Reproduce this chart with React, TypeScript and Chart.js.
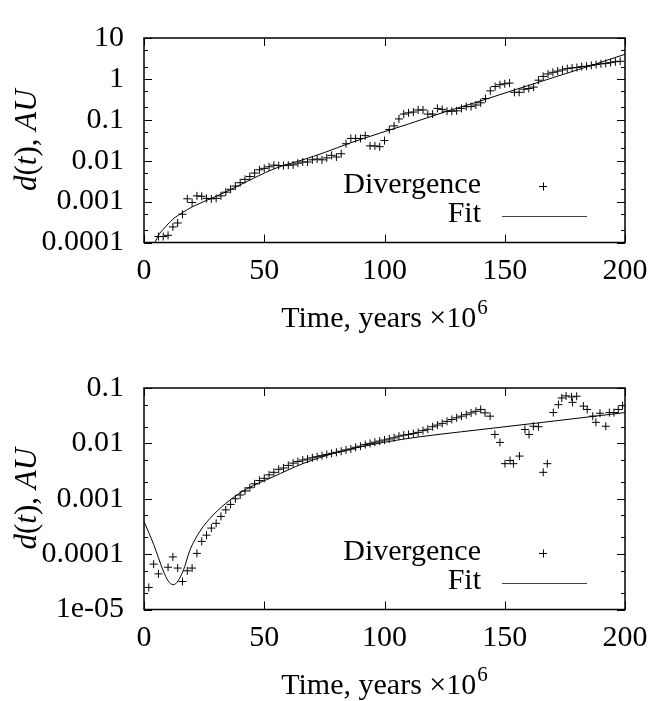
import React, { useEffect, useRef } from "react";
import { Chart, registerables } from "chart.js";
Chart.register(...registerables);

const SERIF = '"Liberation Serif", "Times New Roman", serif';
const FONT_SIZE = 30;
const YTITLE_SIZE = 31;

const xTickValues = [0, 50, 100, 150, 200];
const legendLabels = ["Divergence", "Fit"];
const xTitleMain = "Time, years \u00d710";
const xTitleSup = "6";

// ---------- top panel ----------
const topYTicks = [0.0001, 0.001, 0.01, 0.1, 1, 10];
const topYTickLabels = ["0.0001", "0.001", "0.01", "0.1", "1", "10"];
const topDivTime = [
  6, 8, 10, 12, 14, 16, 18, 20, 22, 24, 26, 28, 30, 32, 34, 36, 38, 40, 42, 44,
  46, 48, 50, 52, 54, 56, 58, 60, 62, 64, 66, 68, 70, 72, 74, 76, 78, 80, 82, 84,
  86, 88, 90, 92, 94, 96, 98, 100, 102, 104, 106, 108, 110, 112, 114, 116, 118, 120, 122, 124,
  126, 128, 130, 132, 134, 136, 138, 140, 142, 144, 146, 148, 150, 152, 154, 156, 158, 160, 162, 164,
  166, 168, 170, 172, 174, 176, 178, 180, 182, 184, 186, 188, 190, 192, 194, 196, 198,
];
const topDivValue = [
  1.4e-4, 1.4e-4, 1.5e-4, 2.4e-4, 3.0e-4, 4.9e-4, 1.17e-3, 9.5e-4, 1.38e-3, 1.35e-3,
  1.2e-3, 1.17e-3, 1.2e-3, 1.38e-3, 1.7e-3, 2.0e-3, 2.4e-3, 2.9e-3, 3.5e-3, 4.1e-3,
  5.0e-3, 6.0e-3, 6.5e-3, 7.1e-3, 7.8e-3, 7.6e-3, 7.6e-3, 7.8e-3, 7.9e-3, 8.7e-3,
  9.3e-3, 9.3e-3, 0.0105, 0.011, 0.0105, 0.0117, 0.0135, 0.0123, 0.0148, 0.026,
  0.035, 0.035, 0.035, 0.041, 0.023, 0.023, 0.022, 0.031, 0.058, 0.071,
  0.105, 0.138, 0.148, 0.155, 0.174, 0.174, 0.138, 0.138, 0.19, 0.18,
  0.162, 0.162, 0.166, 0.19, 0.21, 0.21, 0.23, 0.26, 0.33, 0.51,
  0.65, 0.72, 0.76, 0.79, 0.47, 0.47, 0.56, 0.58, 0.63, 0.93,
  1.15, 1.32, 1.45, 1.55, 1.66, 1.78, 1.86, 1.9, 2.0, 2.04,
  2.14, 2.24, 2.34, 2.4, 2.5, 2.63, 2.7,
];
const topFitTime = [4.6, 6, 8, 12, 16, 20, 26, 33, 40, 47, 54, 60, 66, 75, 86, 98, 110, 125, 140, 155, 170, 185, 200];
const topFitValue = [
  1.0e-4, 1.5e-4, 2.1e-4, 3.7e-4, 5.4e-4, 7.4e-4, 1.07e-3, 1.62e-3, 2.57e-3, 4.1e-3,
  6.3e-3, 8.3e-3, 0.0105, 0.0158, 0.0275, 0.047, 0.079, 0.155, 0.29, 0.56, 1.07, 2.04, 4.0,
];

// ---------- bottom panel ----------
const botYTicks = [1e-5, 1e-4, 1e-3, 1e-2, 0.1];
const botYTickLabels = ["1e-05", "0.0001", "0.001", "0.01", "0.1"];
const botDivTime = [
  2, 4, 6, 10, 12, 14, 16, 18, 20, 22, 24, 26, 28, 30, 32, 34, 36, 38, 40, 42,
  44, 46, 48, 50, 52, 54, 56, 58, 60, 62, 64, 66, 68, 70, 72, 74, 76, 78, 80, 82,
  84, 86, 88, 90, 92, 94, 96, 98, 100, 102, 104, 106, 108, 110, 112, 114, 116, 118, 120, 122,
  124, 126, 128, 130, 132, 134, 136, 138, 140, 141.8, 143.9, 145.9, 148, 150.1, 152.2, 153.6, 156.1, 158.4, 160.1, 161.9,
  164, 166, 167.7, 170.2, 172.3, 173.7, 175.5, 177.8, 178.2, 179.9, 182.7, 184.3, 186.6, 187.9, 189.6, 192, 193.5, 195.4, 197.2, 199,
];
const botDivValue = [
  2.5e-5, 6.6e-5, 4.4e-5, 5.8e-5, 8.9e-5, 5.6e-5, 3.2e-5, 5.0e-5, 5.6e-5, 1.03e-4,
  1.7e-4, 2.2e-4, 2.95e-4, 3.6e-4, 4.8e-4, 6.3e-4, 7.9e-4, 1.0e-3, 1.17e-3, 1.38e-3,
  1.58e-3, 1.86e-3, 2.14e-3, 2.34e-3, 2.7e-3, 3.0e-3, 3.4e-3, 3.6e-3, 4.0e-3, 4.4e-3,
  4.7e-3, 5.0e-3, 5.2e-3, 5.5e-3, 5.75e-3, 6.0e-3, 6.3e-3, 6.6e-3, 6.9e-3, 7.2e-3,
  7.6e-3, 7.9e-3, 8.5e-3, 8.9e-3, 9.5e-3, 0.010, 0.0105, 0.011, 0.0115, 0.012,
  0.0126, 0.0135, 0.0141, 0.0145, 0.015, 0.0158, 0.017, 0.018, 0.020, 0.0214,
  0.023, 0.025, 0.027, 0.029, 0.031, 0.033, 0.0355, 0.038, 0.041, 0.0355,
  0.031, 0.0145, 0.0104, 4.3e-3, 4.9e-3, 4.3e-3, 5.9e-3, 0.0178, 0.0145, 0.0204,
  0.020, 3.0e-3, 4.3e-3, 0.036, 0.050, 0.066, 0.072, 0.069, 0.055, 0.071,
  0.047, 0.041, 0.031, 0.024, 0.035, 0.0204, 0.036, 0.036, 0.041, 0.048,
];
const botFitTime = [0, 4, 8, 10, 12.2, 16.3, 19, 23.3, 28.8, 35.8, 42.7, 53.8, 66, 80, 99.5, 115, 132, 166, 200];
const botFitValue = [
  3.9e-4, 1.5e-4, 5.0e-5, 3.3e-5, 2.8e-5, 5.0e-5, 1.15e-4, 2.6e-4, 5.1e-4, 9.5e-4,
  1.5e-3, 2.5e-3, 4.3e-3, 6.8e-3, 0.0104, 0.0132, 0.0162, 0.024, 0.036,
];

type PanelProps = {
  top: number;
  height: number;
  plotTop: number;
  plotBottom: number;
  yTicks: number[];
  yTickLabels: string[];
  divTime: number[];
  divValue: number[];
  fitTime: number[];
  fitValue: number[];
  legendY: number;
};

const font = (size: number, italic = false) =>
  `${italic ? "italic " : ""}${size}px ${SERIF}`;

function Panel(p: PanelProps) {
  const ref = useRef<HTMLCanvasElement | null>(null);
  useEffect(() => {
    const canvas = ref.current!;
    const framePlugin = {
      id: "frameTicks",
      afterDatasetsDraw(chart: any) {
        const ctx = chart.ctx;
        const { left, right, top, bottom } = chart.chartArea;
        const xs = chart.scales.x;
        const ys = chart.scales.y;
        ctx.save();
        ctx.strokeStyle = "#000";
        ctx.lineWidth = 1;
        const major = 8;
        const minor = 4;
        ctx.beginPath();
        for (const v of xTickValues) {
          const px = Math.round(xs.getPixelForValue(v)) + 0.5;
          ctx.moveTo(px, bottom);
          ctx.lineTo(px, bottom - major);
          ctx.moveTo(px, top);
          ctx.lineTo(px, top + major);
        }
        const yMin = p.yTicks[0];
        const yMax = p.yTicks[p.yTicks.length - 1];
        for (let d = yMin; d <= yMax * 1.0001; d *= 10) {
          const py = Math.round(ys.getPixelForValue(d)) + 0.5;
          ctx.moveTo(left, py);
          ctx.lineTo(left + major, py);
          ctx.moveTo(right, py);
          ctx.lineTo(right - major, py);
          if (d < yMax * 0.999) {
            for (const m of [2, 5]) {
              const pm = Math.round(ys.getPixelForValue(d * m)) + 0.5;
              ctx.moveTo(left, pm);
              ctx.lineTo(left + minor, pm);
              ctx.moveTo(right, pm);
              ctx.lineTo(right - minor, pm);
            }
          }
        }
        ctx.stroke();
        ctx.lineWidth = 1.5;
        ctx.strokeRect(left, top, right - left, bottom - top);
        ctx.restore();
      },
    };
    const legendPlugin = {
      id: "gnuLegend",
      afterDatasetsDraw(chart: any) {
        const ctx = chart.ctx;
        ctx.save();
        ctx.fillStyle = "#000";
        ctx.strokeStyle = "#000";
        ctx.font = font(FONT_SIZE);
        ctx.textAlign = "right";
        ctx.textBaseline = "middle";
        const textRight = 481;
        const rowGap = 29;
        const y1 = p.legendY;
        ctx.fillText(chart.data.datasets[0].label, textRight, y1);
        ctx.lineWidth = 1;
        ctx.beginPath();
        ctx.moveTo(543 - 4, y1 + 1.5);
        ctx.lineTo(543 + 4, y1 + 1.5);
        ctx.moveTo(543.5, y1 + 1.5 - 4);
        ctx.lineTo(543.5, y1 + 1.5 + 4);
        ctx.stroke();
        const y2 = p.legendY + rowGap;
        ctx.fillText(chart.data.datasets[1].label, textRight, y2);
        ctx.strokeStyle = "#444";
        ctx.beginPath();
        ctx.moveTo(502, y2 + 2.5);
        ctx.lineTo(587, y2 + 2.5);
        ctx.stroke();
        ctx.restore();
      },
    };
    const titlePlugin = {
      id: "axisTitles",
      afterDraw(chart: any) {
        const ctx = chart.ctx;
        const { left, right, top, bottom } = chart.chartArea;
        ctx.save();
        ctx.fillStyle = "#000";
        ctx.textBaseline = "middle";
        ctx.textAlign = "left";
        ctx.font = font(FONT_SIZE);
        const wMain = ctx.measureText(xTitleMain).width;
        ctx.font = font(21);
        const wSup = ctx.measureText(xTitleSup).width;
        const cx = (left + right) / 2;
        const tx = cx - (wMain + wSup + 1) / 2;
        const ty = bottom + 77;
        ctx.font = font(FONT_SIZE);
        ctx.fillText(xTitleMain, tx, ty);
        ctx.font = font(21);
        ctx.fillText(xTitleSup, tx + wMain + 1, ty - 11);
        const parts: [string, boolean][] = [
          ["d", true],
          ["(", false],
          ["t", true],
          ["), ", false],
          ["AU", true],
        ];
        let total = 0;
        const widths = parts.map(([s, it]) => {
          ctx.font = font(YTITLE_SIZE, it);
          const w = ctx.measureText(s).width;
          total += w;
          return w;
        });
        ctx.translate(28, (top + bottom) / 2);
        ctx.rotate(-Math.PI / 2);
        let xx = -total / 2;
        parts.forEach(([s, it], i) => {
          ctx.font = font(YTITLE_SIZE, it);
          ctx.fillText(s, xx, 0);
          xx += widths[i];
        });
        ctx.restore();
      },
    };

    const chart = new Chart(canvas, {
      type: "scatter",
      data: {
        datasets: [
          {
            label: legendLabels[0],
            data: p.divTime.map((t, i) => ({ x: t, y: p.divValue[i] })),
            showLine: false,
            pointStyle: "cross",
            pointRadius: 4,
            pointHoverRadius: 4,
            pointBorderWidth: 1,
            borderColor: "#000",
            backgroundColor: "#000",
          },
          {
            label: legendLabels[1],
            data: p.fitTime.map((t, i) => ({ x: t, y: p.fitValue[i] })),
            showLine: true,
            pointRadius: 0,
            pointHoverRadius: 0,
            borderColor: "#000",
            borderWidth: 1,
            cubicInterpolationMode: "monotone",
            fill: false,
          },
        ],
      } as any,
      options: {
        responsive: false,
        animation: false,
        devicePixelRatio: 1,
        events: [],
        layout: { padding: { top: p.plotTop, right: 45, left: 0, bottom: 0 } },
        plugins: {
          legend: { display: false },
          tooltip: { enabled: false },
          title: { display: false },
        },
        scales: {
          x: {
            type: "linear",
            position: "bottom",
            min: 0,
            max: 200,
            grid: { display: false, drawTicks: false },
            border: { display: false },
            ticks: {
              color: "#000",
              font: { family: SERIF, size: FONT_SIZE },
              padding: 11,
              maxRotation: 0,
              autoSkip: false,
            },
            afterBuildTicks: (s: any) => {
              s.ticks = xTickValues.map((v) => ({ value: v }));
            },
            afterFit: (s: any) => {
              s.height = p.height - p.plotBottom;
            },
          },
          y: {
            type: "logarithmic",
            position: "left",
            min: p.yTicks[0],
            max: p.yTicks[p.yTicks.length - 1],
            grid: { display: false, drawTicks: false },
            border: { display: false },
            ticks: {
              color: "#000",
              font: { family: SERIF, size: FONT_SIZE },
              padding: 20,
              autoSkip: false,
              callback: (_v: any, i: number) => p.yTickLabels[i],
            },
            afterBuildTicks: (s: any) => {
              s.ticks = p.yTicks.map((v) => ({ value: v }));
            },
            afterFit: (s: any) => {
              s.width = 144;
            },
          },
        },
      } as any,
      plugins: [framePlugin, legendPlugin, titlePlugin],
    });
    return () => chart.destroy();
  }, []);
  return (
    <canvas
      ref={ref}
      width={670}
      height={p.height}
      style={{ position: "absolute", left: 0, top: p.top, width: 670, height: p.height }}
    />
  );
}

export default function App() {
  return (
    <div style={{ position: "absolute", left: 0, top: 0, width: 670, height: 701, background: "#fff" }}>
      <Panel
        top={0}
        height={350}
        plotTop={19}
        plotBottom={242.5}
        yTicks={topYTicks}
        yTickLabels={topYTickLabels}
        divTime={topDivTime}
        divValue={topDivValue}
        fitTime={topFitTime}
        fitValue={topFitValue}
        legendY={185}
      />
      <Panel
        top={350}
        height={351}
        plotTop={35}
        plotBottom={259.5}
        yTicks={botYTicks}
        yTickLabels={botYTickLabels}
        divTime={botDivTime}
        divValue={botDivValue}
        fitTime={botFitTime}
        fitValue={botFitValue}
        legendY={202}
      />
    </div>
  );
}
